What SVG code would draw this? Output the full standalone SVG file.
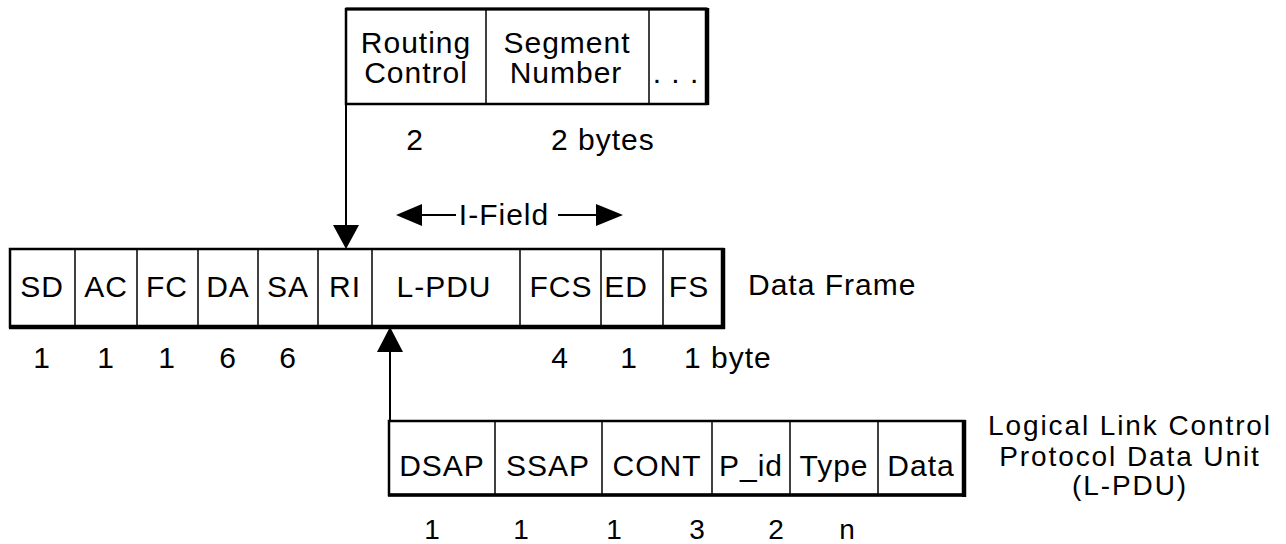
<svg xmlns="http://www.w3.org/2000/svg" width="1286" height="544" viewBox="0 0 1286 544">
<defs>
<style>
text{font-family:"Liberation Sans",Arial,sans-serif;font-size:30px;fill:#000;letter-spacing:1px}
.c{text-anchor:middle}
.s{font-size:28px;letter-spacing:1.9px}
.b{fill:#fff;stroke:#000;stroke-width:2.5}
.d{stroke:#000;stroke-width:1.5}
.k{stroke:#000;stroke-width:4.5}
.ln{stroke:#000;stroke-width:2;fill:none}
</style>
</defs>
<rect width="1286" height="544" fill="#fff"/>
<g id="routing">
<rect class="b" x="346" y="9" width="361" height="95"/>
<line class="k" x1="346" y1="9" x2="707" y2="9" style="stroke-width:3"/>
<line class="k" x1="707" y1="8" x2="707" y2="105"/>
<line class="d" x1="486" y1="9" x2="486" y2="104"/>
<line class="d" x1="649" y1="9" x2="649" y2="104"/>
<text class="c" x="416" y="53">Routing</text>
<text class="c" x="416" y="83">Control</text>
<text class="c" x="567" y="53">Segment</text>
<text class="c" x="566" y="83">Number</text>
<text class="c" x="676" y="83">. . .</text>
<text class="c" x="415" y="150">2</text>
<text x="551" y="150">2 bytes</text>
</g>
<g id="frame">
<rect class="b" x="10" y="249" width="713" height="78"/>
<line class="k" x1="9" y1="327" x2="725" y2="327"/>
<line class="k" x1="723" y1="248" x2="723" y2="329"/>
<line class="d" x1="75" y1="249" x2="75" y2="327"/>
<line class="d" x1="137" y1="249" x2="137" y2="327"/>
<line class="d" x1="198" y1="249" x2="198" y2="327"/>
<line class="d" x1="258" y1="249" x2="258" y2="327"/>
<line class="d" x1="318" y1="249" x2="318" y2="327"/>
<line class="d" x1="372" y1="249" x2="372" y2="327"/>
<line class="d" x1="520" y1="249" x2="520" y2="327"/>
<line class="d" x1="601" y1="249" x2="601" y2="327"/>
<line class="d" x1="663" y1="249" x2="663" y2="327"/>
<text class="c" x="42" y="297">SD</text>
<text class="c" x="106" y="297">AC</text>
<text class="c" x="167" y="297">FC</text>
<text class="c" x="228" y="297">DA</text>
<text class="c" x="288" y="297">SA</text>
<text class="c" x="345" y="297">RI</text>
<text class="c" x="444" y="297">L-PDU</text>
<text class="c" x="561" y="297">FCS</text>
<text class="c" x="626" y="297">ED</text>
<text class="c" x="689" y="297">FS</text>
<text x="748" y="295">Data Frame</text>
<text class="c" x="42" y="368">1</text>
<text class="c" x="106" y="368">1</text>
<text class="c" x="167" y="368">1</text>
<text class="c" x="228" y="368">6</text>
<text class="c" x="288" y="368">6</text>
<text class="c" x="560" y="368">4</text>
<text class="c" x="629" y="368">1</text>
<text x="684" y="368">1 byte</text>
</g>
<g id="ifield">
<text class="c" x="504" y="225">I-Field</text>
</g>
<g id="llc">
<rect class="b" x="389" y="421" width="575" height="74"/>
<line class="k" x1="388" y1="495" x2="966" y2="495" style="stroke-width:3.5"/>
<line class="k" x1="964" y1="420" x2="964" y2="497"/>
<line class="d" x1="495" y1="421" x2="495" y2="495"/>
<line class="d" x1="602" y1="421" x2="602" y2="495"/>
<line class="d" x1="712" y1="421" x2="712" y2="495"/>
<line class="d" x1="790" y1="421" x2="790" y2="495"/>
<line class="d" x1="878" y1="421" x2="878" y2="495"/>
<text class="c" x="442" y="476">DSAP</text>
<text class="c" x="548" y="476">SSAP</text>
<text class="c" x="657" y="476">CONT</text>
<text class="c" x="751" y="476">P_id</text>
<text class="c" x="834" y="476">Type</text>
<text class="c" x="921" y="476">Data</text>
<text class="c s" x="1130" y="435">Logical Link Control</text>
<text class="c s" x="1130" y="466">Protocol Data Unit</text>
<text class="c s" x="1130" y="495">(L-PDU)</text>
<text class="c s" x="433" y="539">1</text>
<text class="c s" x="522" y="539">1</text>
<text class="c s" x="615" y="539">1</text>
<text class="c s" x="698" y="539">3</text>
<text class="c s" x="777" y="539">2</text>
<text class="c s" x="848" y="539">n</text>
</g>
<g id="connectors">
<line class="ln" x1="346" y1="104" x2="346" y2="226"/>
<polygon points="333,225 359,225 346,249"/>
<line class="ln" x1="390" y1="421" x2="390" y2="350"/>
<polygon points="377,352 403,352 390,327"/>
<line class="ln" x1="420" y1="215" x2="456" y2="215"/>
<polygon points="396,215 422,204 422,226"/>
<line class="ln" x1="558" y1="215" x2="596" y2="215"/>
<polygon points="623,215 596,204 596,226"/>
</g>
</svg>
